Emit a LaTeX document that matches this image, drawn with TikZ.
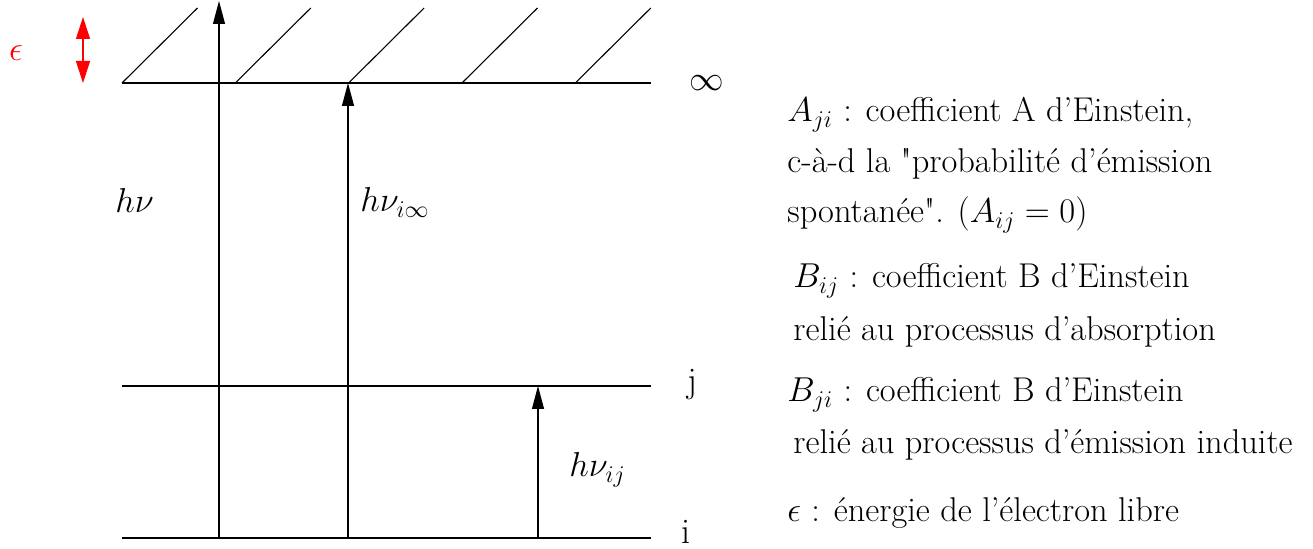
\documentclass[tikz,border=0pt]{standalone}
\usepackage{fontspec}
\usetikzlibrary{arrows.meta}
\tikzset{
  lvl/.style={line width=0.55pt},
  hatchline/.style={line width=0.55pt},
  uparrow/.style={line width=0.55pt,-{Triangle[length=11.5pt,width=6pt]}},
  epsarrow/.style={red,line width=0.55pt,{Triangle[length=11pt,width=7pt]}-{Triangle[length=11pt,width=7pt]}},
  txt/.style={anchor=base west,inner sep=0pt,font=\fontsize{17.2}{20}\selectfont},
  biglab/.style={anchor=base west,inner sep=0pt,font=\fontsize{18}{21}\selectfont},
}
\begin{document}
\begin{tikzpicture}[x=0.5pt,y=-0.5pt]
\useasboundingbox (0,0) rectangle (1313,549);
% levels
\coordinate (infL) at (122,83);  \coordinate (infR) at (651,83);
\coordinate (jL) at (122,386);   \coordinate (jR) at (651,386);
\coordinate (iL) at (122,538);   \coordinate (iR) at (651,538);
\draw[lvl] (infL) -- (infR);
\draw[lvl] (jL) -- (jR);
\draw[lvl] (iL) -- (iR);
% hatching
\foreach \x in {122,235.3,348.6,462,575.3}
  \draw[hatchline] (\x,83) -- ++(75.5,-75);
% arrows
\coordinate (a1s) at (219,538); \coordinate (a1e) at (219,1);
\coordinate (a2s) at (348,538); \coordinate (a2e) at (348,83);
\coordinate (a3s) at (538,538); \coordinate (a3e) at (538,386);
\draw[uparrow] (a1s) -- (a1e);
\draw[uparrow] (a2s) -- (a2e);
\draw[uparrow] (a3s) -- (a3e);
% epsilon arrow
\coordinate (e1) at (83,17); \coordinate (e2) at (83,83);
\draw[epsarrow] (e1) -- (e2);
\node[anchor=center,inner sep=0pt,red,font=\fontsize{17}{20}\selectfont] (eps) at (16,53) {$\epsilon$};
% big labels
\node[biglab] (hnu) at (115,213) {$h\nu$};
\node[biglab] (hnuinf) at (360,212) {$h\nu_{i\infty}$};
\node[biglab] (hnuij) at (569,477) {$h\nu_{ij}$};
\node[anchor=center,inner sep=0pt,font=\fontsize{18}{21}\selectfont] (linf) at (707,83) {$\infty$};
\node[biglab] (lj) at (687,393) {j};
\node[biglab] (li) at (681,544) {i};
% text
\node[txt] (t1) at (787,122) {$A_{ji}$ : coefficient A d'Einstein,};
\node[txt] (t2) at (787,173) {c-à-d la \textquotedbl probabilité d'émission};
\node[txt] (t3) at (787,223) {spontanée\textquotedbl. ($A_{ij}=0$)};
\node[txt] (t4) at (793,288) {$B_{ij}$ : coefficient B d'Einstein};
\node[txt] (t5) at (793,341) {relié au processus d'absorption};
\node[txt] (t6) at (787,402) {$B_{ji}$ : coefficient B d'Einstein};
\node[txt] (t7) at (793,454) {relié au processus d'émission induite};
\node[txt] (t8) at (787,522) {$\epsilon$ : énergie de l'électron libre};
\end{tikzpicture}
\end{document}
